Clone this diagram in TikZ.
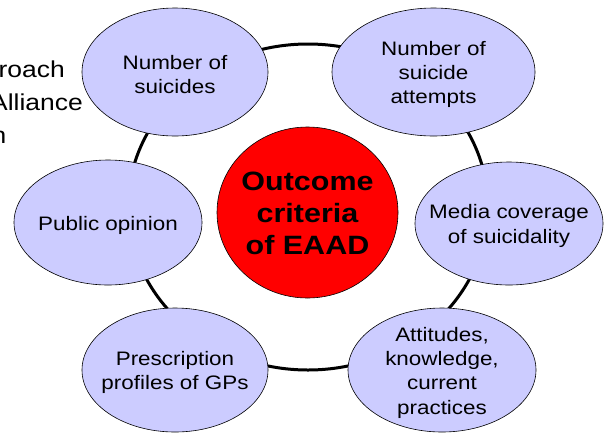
\documentclass[tikz,border=0pt]{standalone}
\usepackage{fontspec}
\setmainfont[FakeStretch=1.15]{Liberation Sans}
\usetikzlibrary{shapes.geometric}
\definecolor{lav}{HTML}{CCCCFF}
\begin{document}
\begin{tikzpicture}[x=1pt,y=-1pt,
  bubble/.style={ellipse,draw=black,line width=0.6pt,fill=lav,inner sep=0pt},
  bubbletext/.style={inner sep=0pt,align=center,yshift=-2.5pt,
    font=\fontsize{19.5}{24.3}\selectfont},
  hub/.style={ellipse,draw=black,line width=0.6pt,fill=red,inner sep=0pt},
  hubtext/.style={inner sep=0pt,align=center,yshift=-1pt,
    font=\fontsize{26.5}{32}\selectfont\bfseries},
  ringline/.style={ellipse,draw=black,line width=3pt,inner sep=0pt},
  titletext/.style={inner sep=0pt,font=\fontsize{23}{33}\selectfont}]
\useasboundingbox (0,0) rectangle (604,432);
\fill[white] (0,0) rectangle (604,432);
\clip (0,0) rectangle (604,432);

% title text running off the left edge
\node[titletext,anchor=base east] (t1) at (65,77) {roach};
\node[titletext,anchor=base east] (t2) at (83,110) {Alliance};
\node[titletext,anchor=base east] (t3) at (6.5,143) {n};

% ring linking the outcome criteria
\node[ringline,minimum width=360,minimum height=326] (ring) at (308,207) {};

% central hub
\node[hub,minimum width=181,minimum height=171] (hub) at (307.5,212.5) {};
\node[hubtext] (hub-t) at (hub.center) {Outcome\\criteria\\of EAAD};

% outcome criteria
\node[bubble,minimum width=186,minimum height=128] (suic) at (175,72) {};
\node[bubbletext] (suic-t) at (suic.center) {Number of\\suicides};
\node[bubble,minimum width=203,minimum height=128] (att) at (433.5,72) {};
\node[bubbletext] (att-t) at (att.center) {Number of\\suicide\\attempts};
\node[bubble,minimum width=188,minimum height=125] (pub) at (108,222.5) {};
\node[bubbletext] (pub-t) at (pub.center) {Public opinion};
\node[bubble,minimum width=188,minimum height=123] (media) at (509,223.5) {};
\node[bubbletext] (media-t) at (media.center) {Media coverage\\of suicidality};
\node[bubble,minimum width=186,minimum height=124] (presc) at (175,370) {};
\node[bubbletext] (presc-t) at (presc.center) {Prescription\\profiles of GPs};
\node[bubble,minimum width=188,minimum height=124] (know) at (442,370) {};
\node[bubbletext] (know-t) at (know.center) {Attitudes,\\knowledge,\\current\\practices};
\end{tikzpicture}
\end{document}
